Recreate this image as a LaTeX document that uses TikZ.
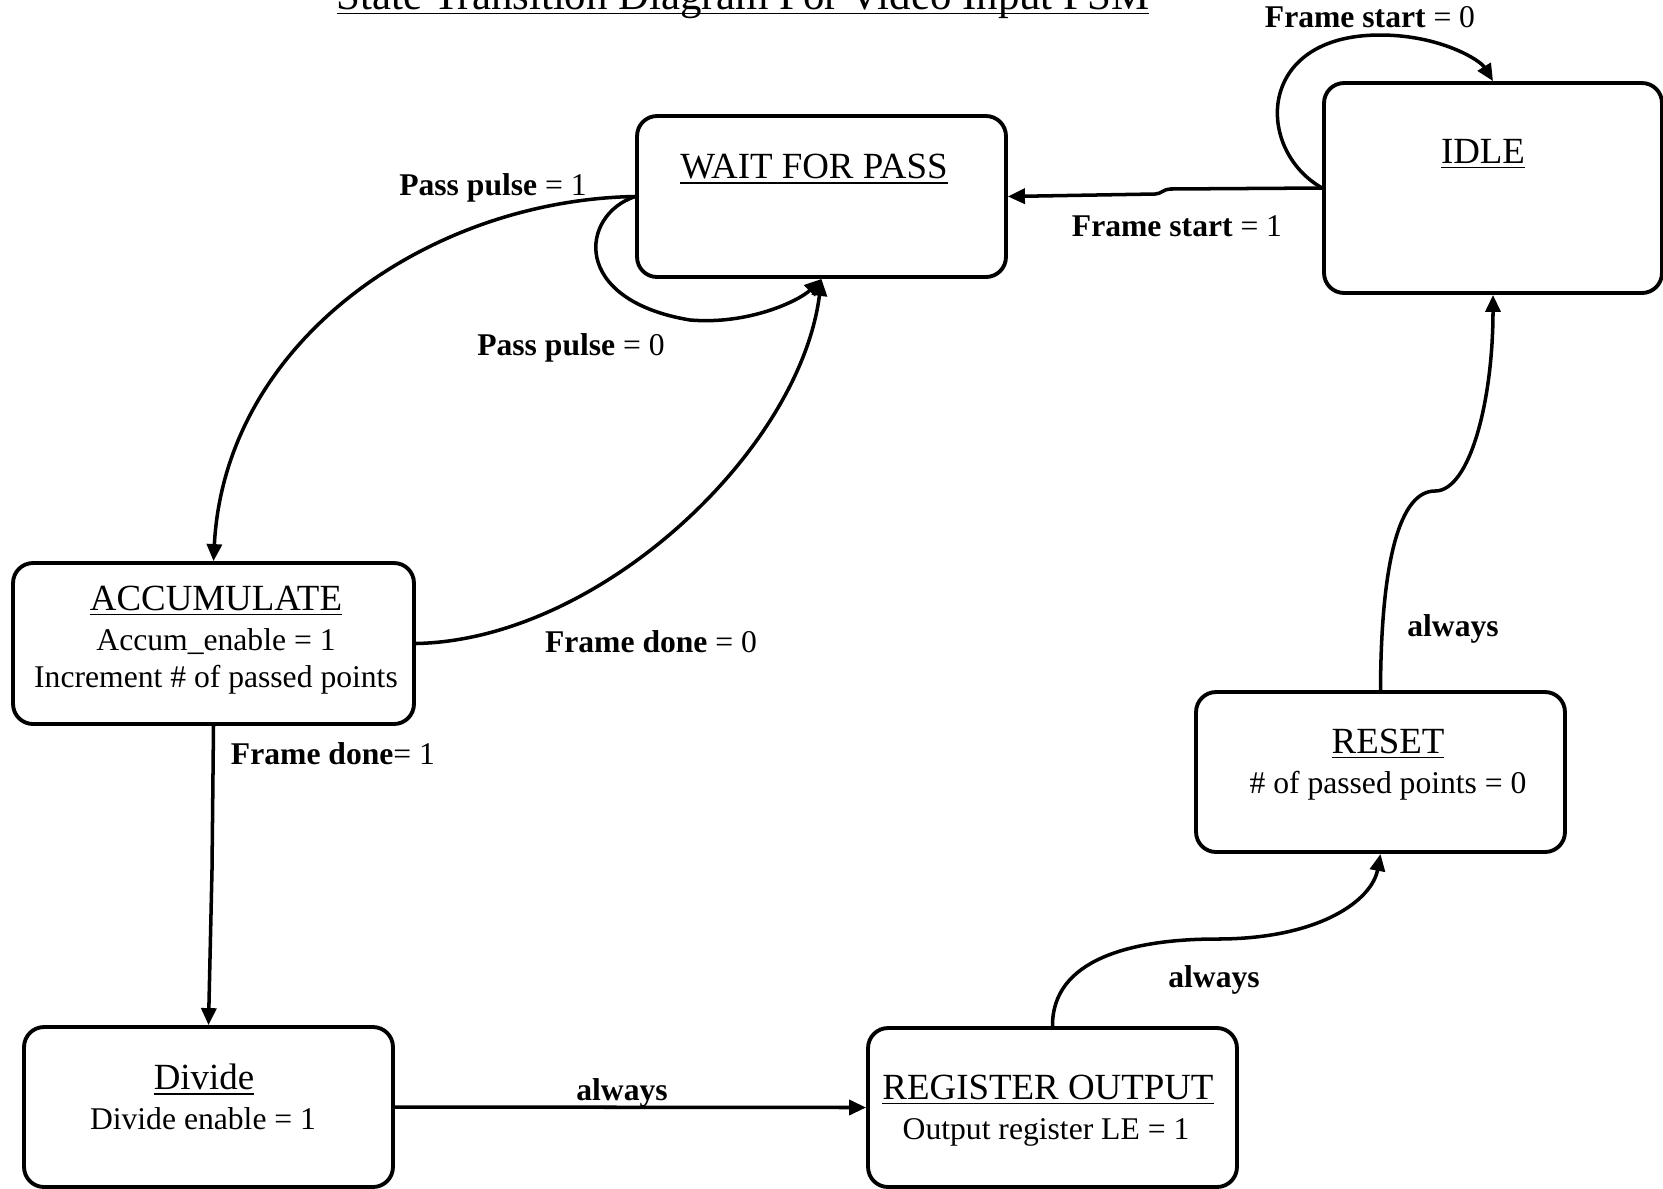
\documentclass[tikz,border=0pt]{standalone}
\usepackage{fontspec}
\setmainfont{Liberation Serif}
\usetikzlibrary{arrows.meta}
\newcommand{\fsmul}[1]{\setbox0=\hbox{#1}\rlap{\rule[-3pt]{\wd0}{1pt}}\box0}

\begin{document}
		\begin{tikzpicture}[x=0.02cm, y=-0.02cm,
			fsmstate/.style={draw, line width=2.2pt, rounded corners=0.4cm},
			trans/.style={line width=2pt, -{Triangle[length=0.34cm, width=0.3cm]}},
			cond/.style={font=\fontsize{18}{21}\selectfont, inner sep=0pt, anchor=base},
			stname/.style={font=\fontsize{21}{25}\selectfont, inner sep=0pt, anchor=base},
			stact/.style={font=\fontsize{18}{21}\selectfont, inner sep=0pt, anchor=base}]
			\useasboundingbox (0,0) rectangle (1663,1188);
			
			\node[font=\fontsize{24.4}{29}\selectfont, inner sep=0pt, anchor=base] (title) at (743,9) {\fsmul{State Transition Diagram For Video Input FSM}};
			
			% Estados
			\node[fsmstate, minimum width=7.38cm, minimum height=3.22cm] (wait) at (821.5,196.5) {};
			\node[fsmstate, minimum width=6.76cm, minimum height=4.2cm] (idle) at (1493,188) {};
			\node[fsmstate, minimum width=8.02cm, minimum height=3.22cm] (accum) at (213.5,643.5) {};
			\node[fsmstate, minimum width=7.38cm, minimum height=3.2cm] (divide) at (208.5,1107) {};
			\node[fsmstate, minimum width=7.38cm, minimum height=3.18cm] (regout) at (1052.5,1107.5) {};
			\node[fsmstate, minimum width=7.38cm, minimum height=3.2cm] (reset) at (1380.5,772) {};
			
			\node[stname] (wait-name) at (814,178.5) {\fsmul{WAIT FOR PASS}};
			\node[stname] (idle-name) at (1483,163) {\fsmul{IDLE}};
			\node[stname] (accum-name) at (216,610) {\fsmul{ACCUMULATE}};
			\node[stact] (accum-act1) at (216,650) {Accum\_enable = 1};
			\node[stact] (accum-act2) at (216,687.5) {Increment \# of passed points};
			\node[stname] (divide-name) at (204,1089.5) {\fsmul{Divide}};
			\node[stact] (divide-act) at (203,1129.5) {Divide enable = 1};
			\node[stname] (regout-name) at (1048,1099) {\fsmul{REGISTER OUTPUT}};
			\node[stact] (regout-act) at (1046,1139) {Output register LE = 1};
			\node[stname] (reset-name) at (1388,753) {\fsmul{RESET}};
			\node[stact] (reset-act) at (1388,793) {\# of passed points = 0};
			
			% Transiciones
			\draw[trans] (idle.west) .. controls (1255,150) and (1255,35) .. (1380,35) .. controls (1440,35) and (1480,60) .. (idle.north);
			\draw[trans] (idle.west) -- (1170,189) to[out=180, in=0] (1155,194) -- (wait.east);
			\draw[trans] (wait.west) .. controls (580,215) and (570,300) .. (690,320) .. controls (750,325) and (800,300) .. (wait.south);
			\draw[trans] (wait.west) .. controls (430,200) and (225,340) .. (accum.north);
			\draw[trans] (accum.east) .. controls (600,640) and (800,450) .. (wait.south);
			\draw[trans] (accum.south) -- (212,870) -- (divide.north);
			\draw[trans] (divide.east) -- (regout.west);
			\draw[trans] (regout.north) .. controls (1052,960) and (1130,939) .. (1217,939) .. controls (1320,939) and (1372,900) .. (reset.south);
			\draw[trans] (reset.north) .. controls (1381,560) and (1400,491) .. (1435,491) .. controls (1470,491) and (1493,400) .. (idle.south);
			
			% Condiciones
			\node[cond] (c-fs0) at (1370,27.5) {\textbf{Frame start} = 0};
			\node[cond] (c-fs1) at (1177,236.5) {\textbf{Frame start} = 1};
			\node[cond] (c-pp1) at (493,195.5) {\textbf{Pass pulse} = 1};
			\node[cond] (c-pp0) at (571,355.5) {\textbf{Pass pulse} = 0};
			\node[cond] (c-fd0) at (651,652.5) {\textbf{Frame done} = 0};
			\node[cond] (c-fd1) at (333,764.5) {\textbf{Frame done}= 1};
			\node[cond] (c-al1) at (622,1100) {\textbf{always}};
			\node[cond] (c-al2) at (1214,987) {\textbf{always}};
			\node[cond] (c-al3) at (1453,636) {\textbf{always}};
		\end{tikzpicture}
\end{document}
